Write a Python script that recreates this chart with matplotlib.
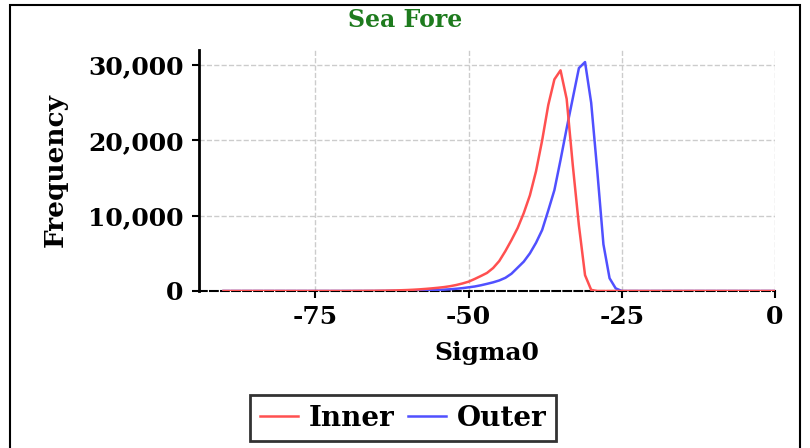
# Sea Fore - Sigma0 frequency distributions, Inner vs Outer
import numpy as np
import matplotlib.pyplot as plt
from matplotlib.ticker import FuncFormatter
from matplotlib.patches import Rectangle

# Data (bins of 1 dB)
sigma0 = np.arange(-90, 1)
inner = ([0] * 21 +
         [5, 10, 15, 20, 30, 40, 55, 75, 100, 130,
          170, 220, 280, 350, 430, 520, 640, 800, 1000, 1240,
          1600, 1990, 2400, 3050, 3980, 5300, 6770, 8360, 10350, 12700,
          15900, 20000, 24700, 28100, 29300, 25500, 16700, 8700, 2100, 150] +
         [0] * 30)
outer = ([0] * 26 +
         [5, 10, 15, 20, 30, 45, 60, 80, 105, 140,
          180, 230, 300, 380, 490, 600, 760, 950, 1150, 1400,
          1750, 2300, 3100, 3900, 5000, 6400, 8100, 10700, 13400, 17400,
          21600, 25600, 29600, 30400, 25000, 15900, 6200, 1700, 350, 0] +
         [0] * 25)
x_ticks = [-75, -50, -25, 0]
y_ticks = [0, 10000, 20000, 30000]

plt.rcParams['font.family'] = 'DejaVu Serif'
plt.rcParams['font.weight'] = 'bold'
plt.rcParams['axes.unicode_minus'] = False

fig = plt.figure(figsize=(8.1, 4.48), dpi=100)
ax = fig.add_axes([199 / 810, 1 - 291 / 448, (775 - 199) / 810, (291 - 50) / 448])

ax.plot(sigma0, outer, color='#5050ff', lw=1.8, label='Outer', zorder=3)
ax.plot(sigma0, inner, color='#ff5050', lw=1.8, label='Inner', zorder=4)

ax.set_xlim(-94, 0)
ax.set_ylim(0, 32000)
ax.set_xticks(x_ticks)
ax.set_yticks(y_ticks)
ax.yaxis.set_major_formatter(FuncFormatter(lambda v, p: f'{int(v):,}'))
ax.grid(True, color='#cccccc', linestyle='--', linewidth=1)
ax.set_axisbelow(True)

for s in ['top', 'right']:
    ax.spines[s].set_visible(False)
ax.spines['left'].set_linewidth(2)
ax.spines['bottom'].set_linewidth(1.5)
ax.spines['bottom'].set_linestyle('--')
ax.tick_params(axis='both', labelsize=18, length=5, width=1.5)
ax.tick_params(axis='y', pad=6)
ax.tick_params(axis='x', pad=5)

ax.set_xlabel('Sigma0', fontsize=18, fontweight='bold', labelpad=9)
ax.set_ylabel('Frequency', fontsize=19, fontweight='bold', labelpad=15)
fig.text(0.5, 1 - 20 / 448, 'Sea Fore', ha='center', va='center',
         fontsize=17, fontweight='bold', color='#1e7b1e')

# legend in Inner, Outer order
h, l = ax.get_legend_handles_labels()
leg = fig.legend(h[::-1], l[::-1], loc='upper center', ncol=2,
                 bbox_to_anchor=(0.498, 1 - 395 / 448), fontsize=20,
                 frameon=True, fancybox=False, handlelength=1.35,
                 handletextpad=0.4, columnspacing=0.5, borderpad=0.35,
                 borderaxespad=0)
leg.get_frame().set_edgecolor('black')
leg.get_frame().set_linewidth(2)

# frame around figure
fig.patches.append(Rectangle((10 / 810, -0.05), 790 / 810, 1.05 - 5 / 448,
                             transform=fig.transFigure, fill=False,
                             edgecolor='black', linewidth=1.5))

fig.savefig('out.png', dpi=100)
